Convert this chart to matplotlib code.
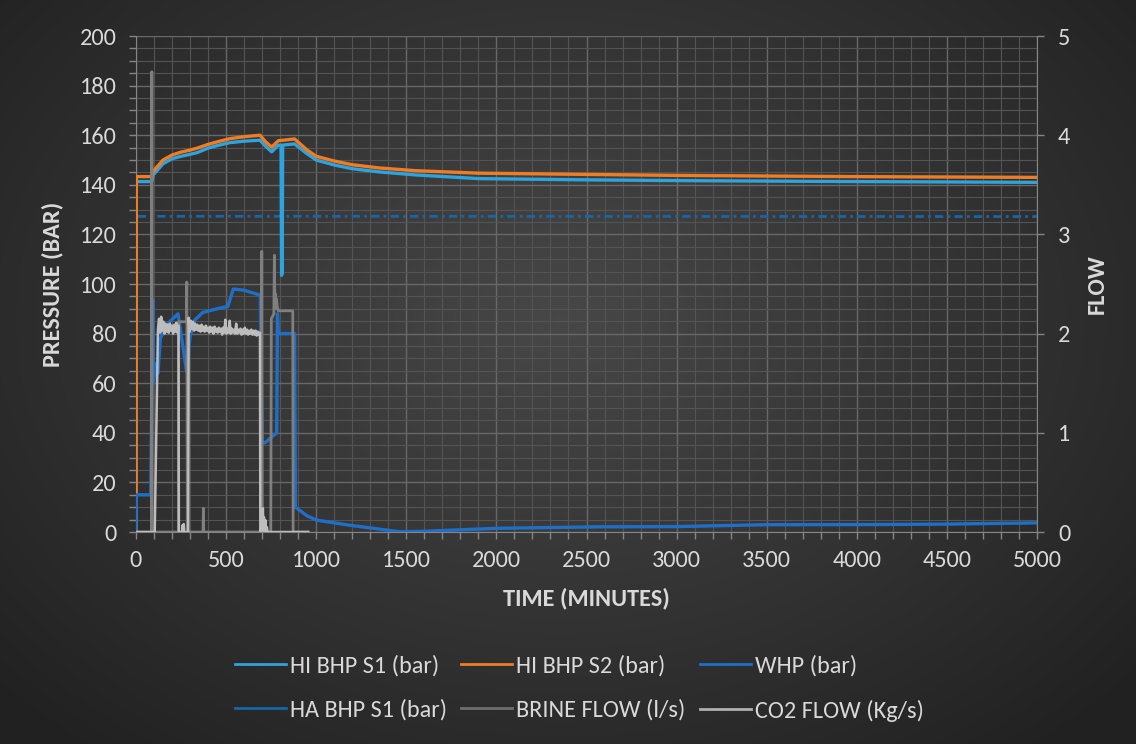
import numpy as np
import matplotlib
matplotlib.use('Agg')
import matplotlib.pyplot as plt
from matplotlib import font_manager as fm
from matplotlib.lines import Line2D
from matplotlib.ticker import MultipleLocator

avail = {f.name for f in fm.fontManager.ttflist}
FONT = next((f for f in ['Carlito', 'Liberation Sans', 'DejaVu Sans'] if f in avail), 'DejaVu Sans')
plt.rcParams['font.family'] = [FONT, 'DejaVu Sans']

TXT = '#d9d9d9'
TICK = '#858585'

# ---- data ----
t_s1 = [0, 2, 88, 95, 120, 150, 200, 250, 300, 340, 400, 450, 520, 600, 688, 720, 753, 790, 805,
        808, 811, 814, 880, 950, 1000, 1100, 1200, 1350, 1550, 1900, 2500, 3000, 4000, 5000]
hi_s1 = [0, 141.3, 141.3, 144, 146, 148.5, 150.5, 151.5, 152.3, 153, 154.8, 155.8, 157, 157.6, 158, 155.5, 153.3, 156, 156,
         103.5, 104.5, 156, 156.5, 152.5, 150, 148, 146.5, 145.2, 144, 142.5, 142, 141.7, 141.3, 141]

t_s2 = [0, 2, 88, 95, 120, 150, 200, 250, 300, 340, 400, 450, 520, 600, 688, 720, 753, 790, 820,
        880, 950, 1000, 1100, 1200, 1350, 1550, 1900, 2500, 3000, 4000, 5000]
hi_s2 = [0, 143.3, 143.3, 145.5, 147.5, 150, 152, 153.2, 154, 154.8, 156.3, 157.3, 158.6, 159.4, 160, 157.3, 155.2, 157.8, 158,
         158.5, 154, 151.5, 149.6, 148.1, 146.8, 145.7, 144.7, 144.2, 143.8, 143.3, 143]

t_whp = [0, 2, 74, 82, 93, 96, 110, 122, 135, 160, 190, 233, 260, 281, 300, 327, 370, 450, 510, 540, 600, 690,
         700, 716, 781, 785, 790, 880, 885, 950, 1003, 1180, 1465, 1600, 2000, 2575, 3000, 3500, 4000, 4500, 5000]
whp = [0, 15, 15, 15, 93.5, 60, 68, 64, 78, 82, 85, 88, 75, 64.6, 79, 85.5, 88.5, 90, 91, 98, 97.5, 95.5,
       36, 36, 40, 88, 80, 80, 10, 6.5, 4.8, 2.8, 0.1, 0.3, 1.5, 2.1, 2.2, 2.95, 3.0, 3.2, 3.7]

t_ha = [10, 1000, 5000]
ha_s1 = [127.3, 127.3, 127.2]

t_brine = [0, 86, 88, 90, 236, 237, 280, 282, 285, 372, 374, 376, 696, 698, 701, 748, 751, 765, 768, 771,
           774, 777, 780, 784, 790, 870, 872, 955]
brine = [0, 0, 4.64, 0, 0, 2.12, 2.12, 2.52, 0, 0, 0.24, 0, 0, 2.83, 0, 0, 2.15, 2.2, 2.79, 2.28,
         2.4, 2.25, 2.35, 2.27, 2.23, 2.23, 0, 0]

co2_pre_t = [0, 104]
co2_pre = [0, 0]
co2_band1_t = list(range(122, 237, 6))
co2_band1 = [2.05, 2.15, 2.01, 2.17, 2.03, 2.12, 2.00, 2.10, 2.02, 2.09,
             2.01, 2.10, 2.03, 2.08, 2.00, 2.09, 2.02, 2.11, 2.01, 2.08]
co2_mid_t = [238, 255, 259, 262, 265, 268, 287, 290]
co2_mid = [0, 0, 0.07, 0.03, 0.08, 0, 0, 0]
co2_band2_t = list(range(292, 689, 6))
co2_band2 = [2.16, 2.02, 2.13, 2.05, 2.12, 2.03, 2.10, 2.04, 2.09, 2.03,
             2.08, 2.02, 2.09, 2.03, 2.07, 2.02, 2.08, 2.03, 2.06, 2.01,
             2.07, 2.02, 2.06, 2.00, 2.07, 2.02, 2.05, 2.01, 2.06, 2.02,
             2.05, 1.99, 2.06, 2.01, 2.14, 2.00, 2.05, 2.01, 2.13, 2.00,
             2.05, 2.01, 2.04, 2.00, 2.10, 2.00, 2.04, 2.01, 2.05, 1.99,
             2.04, 2.00, 2.06, 2.00, 2.04, 1.99, 2.03, 2.00, 2.04, 1.99,
             2.03, 1.99, 2.03, 1.98, 2.02, 1.99, 2.01]
co2_post_t = [690, 694, 698, 701, 704, 707, 710, 714, 718, 722, 726, 730, 955]
co2_post = [0, 0, 0.18, 0.02, 0.24, 0.05, 0.15, 0, 0.12, 0, 0.05, 0, 0]

t_co2 = co2_pre_t + co2_band1_t + co2_mid_t + co2_band2_t + co2_post_t
co2 = co2_pre + co2_band1 + co2_mid + co2_band2 + co2_post

# ---- figure ----
fig = plt.figure(figsize=(11.36, 7.44), dpi=100)

# radial background
bg = fig.add_axes([0, 0, 1, 1], zorder=-10)
yy, xx = np.mgrid[0:744, 0:1136]
r = np.sqrt(((xx - 560) / 760.0) ** 2 + ((yy - 320) / 560.0) ** 2)
r = np.clip(r, 0, 1)
g = (0.28 - 0.15 * r)
bg.imshow(np.dstack([g, g, g]), aspect='auto', extent=[0, 1, 0, 1])
bg.axis('off')

ax = fig.add_axes([0.1197, 0.2849, 0.7932, 0.6667])
ax.set_facecolor('none')
ax2 = ax.twinx()
ax2.set_facecolor('none')

ax.plot(t_s1, hi_s1, color='#2ea3dc', lw=2.4, zorder=3)
ax.plot(t_s2, hi_s2, color='#f07d24', lw=2.4, zorder=3)
ax.plot(t_whp, whp, color='#1f6fc8', lw=2.4, zorder=3)
ax.plot(t_ha, ha_s1, color='#1766a8', lw=2.0, dashes=(3, 1.5, 1, 1.5), zorder=2)

ax2.plot(t_brine, brine, color='#7f7f7f', lw=2.0)
ax2.plot(t_co2, co2, color='#bdbdbd', lw=1.8)

ax.set_xlim(0, 5000)
ax.set_ylim(0, 200)
ax2.set_ylim(0, 5)
ax.xaxis.set_major_locator(MultipleLocator(500))
ax.xaxis.set_minor_locator(MultipleLocator(100))
ax.yaxis.set_major_locator(MultipleLocator(20))
ax.yaxis.set_minor_locator(MultipleLocator(5))
ax2.yaxis.set_major_locator(MultipleLocator(1))

ax.grid(which='major', color='#686868', lw=1.0)
ax.grid(which='minor', color='#545454', lw=0.8)
ax.set_axisbelow(True)

for a in (ax, ax2):
    for s in a.spines.values():
        s.set_visible(False)
ax.spines['left'].set_visible(True)
ax.spines['left'].set_color(TICK)
ax.spines['bottom'].set_visible(True)
ax.spines['bottom'].set_color(TICK)
ax2.spines['right'].set_visible(True)
ax2.spines['right'].set_color(TICK)

ax.tick_params(axis='both', which='both', direction='out', color=TICK, length=5, width=1)
ax.tick_params(axis='both', which='major', labelsize=17.5, labelcolor=TXT)
ax.tick_params(axis='y', which='major', pad=9)
ax.tick_params(axis='x', which='major', pad=8)
ax2.tick_params(axis='y', direction='out', color=TICK, length=5, width=1, labelsize=17.5,
                labelcolor=TXT, pad=10)

ax.set_xlabel('TIME (MINUTES)', fontsize=17.5, fontweight='bold', color=TXT, labelpad=12)
ax.set_ylabel('PRESSURE (BAR)', fontsize=17.5, fontweight='bold', color=TXT, labelpad=12)
ax2.set_ylabel('FLOW', fontsize=17.5, fontweight='bold', color=TXT, labelpad=12)

handles = [
    Line2D([], [], color='#2ea3dc', lw=2),
    Line2D([], [], color='#1766a8', lw=2),
    Line2D([], [], color='#f07d24', lw=2),
    Line2D([], [], color='#6e6e6e', lw=2),
    Line2D([], [], color='#1f6fc8', lw=2),
    Line2D([], [], color='#b0b0b0', lw=2),
]
labels = ['HI BHP S1 (bar)', 'HA BHP S1 (bar)', 'HI BHP S2 (bar)', 'BRINE FLOW (l/s)',
          'WHP (bar)', 'CO2 FLOW (Kg/s)']
leg = fig.legend(handles, labels, loc='center', bbox_to_anchor=(0.51, 0.075), ncol=3,
                 frameon=False, fontsize=17.5, handlelength=2.1, handletextpad=0.15,
                 columnspacing=0.6, labelspacing=0.95)
for tx in leg.get_texts():
    tx.set_color(TXT)

fig.savefig('out.png', dpi=100)
